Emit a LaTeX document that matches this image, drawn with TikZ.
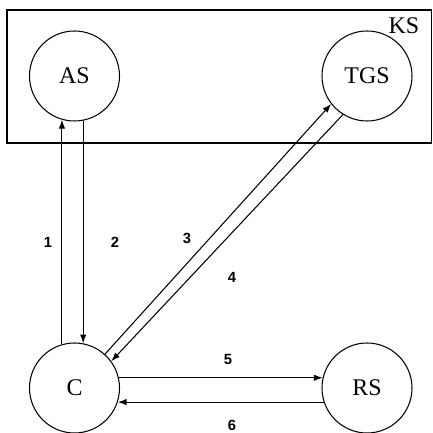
\documentclass[tikz,border=0pt]{standalone}
\usepackage{amsmath}
\usepackage{fontspec}
\setmainfont{Liberation Serif}
\newfontfamily\numfont{Liberation Sans}
\usepackage{tikz}
\usetikzlibrary{arrows.meta}
\tikzset{
  server/.style={draw, circle, line width=0.75pt, minimum size=2.25cm, inner sep=0pt, font=\fontsize{17}{17}\selectfont},
  msg/.style={line width=0.75pt, -{Latex[length=2.2mm,width=1.6mm]}},
  msgnum/.style={font=\numfont\bfseries\fontsize{10.5}{10.5}\selectfont}
}

\begin{document}
\begin{tikzpicture}
           \useasboundingbox (0,0) rectangle (10.825,10.825);
           \draw[line width=0.75pt] (0.175,7.25) rectangle (10.7875,10.575);
           \node[font=\fontsize{17}{17}\selectfont] (ks) at (10.1,10.175) {KS};
           \node[server] (as) at (1.8625,8.925) {AS};
           \node[server] (tgs) at (9.175,8.925) {TGS};
           \node[server] (c) at (1.8625,1.125) {C};
           \node[server] (rs) at (9.175,1.125) {RS};
           \draw[msg] (c.106) -- (as.254);
           \node[msgnum] (n1) at (1.2,4.775) {1};
           \draw[msg] (as.281) -- (c.79);
           \node[msgnum] (n2) at (2.875,4.775) {2};
           \draw[msg] (c.48) -- (tgs.218);
           \node[msgnum] (n3) at (4.675,4.875) {3};
           \draw[msg] (tgs.238) -- (c.36);
           \node[msgnum] (n4) at (5.8,3.9) {4};
           \draw[msg] (c.13) -- (rs.167);
           \node[msgnum] (n5) at (5.7,1.85) {5};
           \draw[msg] (rs.198) -- (c.342);
           \node[msgnum] (n6) at (5.8,0.2) {6};
\end{tikzpicture}
\end{document}
